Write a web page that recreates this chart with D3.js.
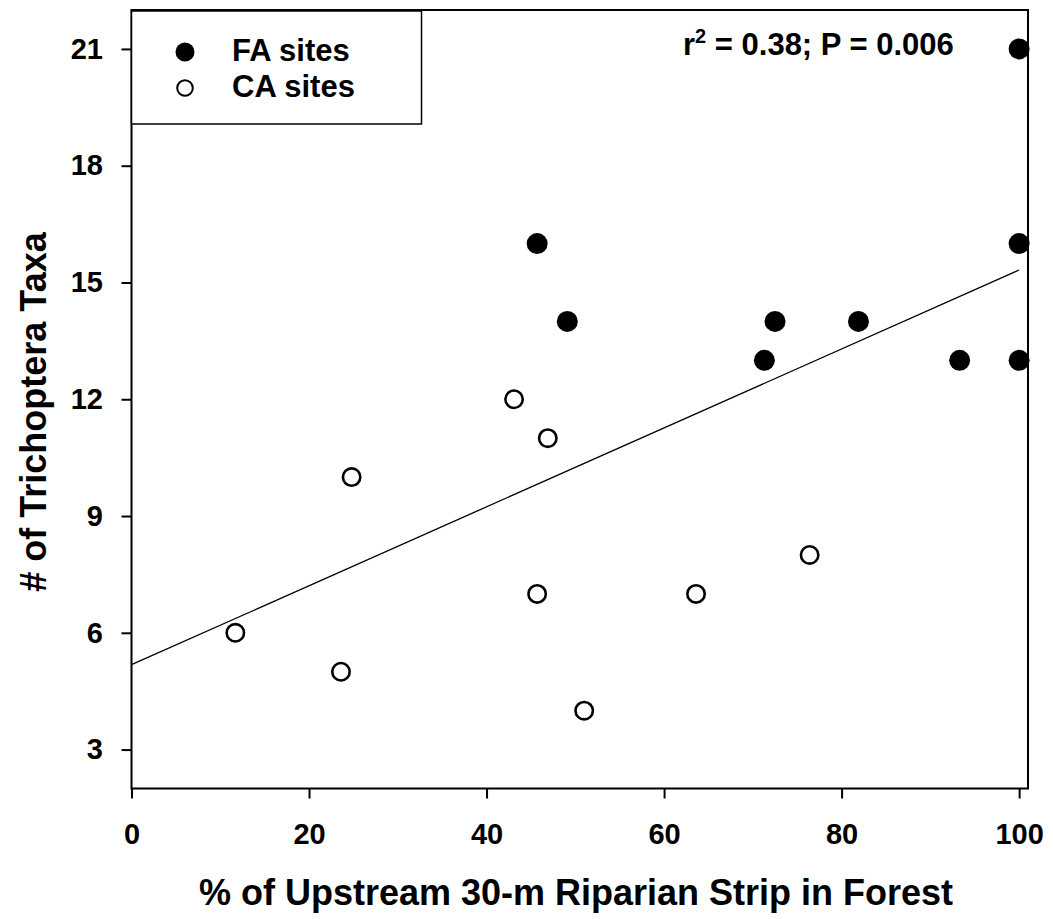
<!DOCTYPE html>
<html>
<head>
<meta charset="utf-8">
<script src="https://cdn.jsdelivr.net/npm/d3@7"></script>
<style>
  body { margin: 0; background: #fff; }
  svg text { font-family: Arial, "Liberation Sans", sans-serif; font-weight: bold; fill: #000; }
</style>
</head>
<body>
<svg id="chart" width="1053" height="919"></svg>
<script>
// FA sites (filled)
const faX = [45.7, 49.1, 71.3, 72.5, 81.9, 93.3, 100, 100, 100];
const faY = [16, 14, 13, 14, 14, 13, 21, 16, 13];
// CA sites (open)
const caX = [11.7, 23.6, 24.8, 43.1, 45.7, 46.9, 51.0, 63.6, 76.4];
const caY = [6, 5, 10, 12, 7, 11, 4, 7, 8];
// regression line as drawn
const fitX = [0, 100];
const fitY = [5.18, 15.32];

const xTicks = [0, 20, 40, 60, 80, 100];
const yTicks = [3, 6, 9, 12, 15, 18, 21];
const legendLabels = ["FA sites", "CA sites"];

const svg = d3.select("#chart");

const plotL = 131.5, plotR = 1028, plotT = 10, plotB = 788.5;

const x = d3.scaleLinear().domain([0, 101]).range([plotL, plotR]);
const y = d3.scaleLinear().domain([2, 22]).range([plotB, plotT]);

// axes
const xAxis = svg.append("g")
    .attr("transform", `translate(0,${plotB})`)
    .call(d3.axisBottom(x).tickValues(xTicks).tickSize(10).tickSizeOuter(0).tickPadding(24.5));
const yAxis = svg.append("g")
    .attr("transform", `translate(${plotL},0)`)
    .call(d3.axisLeft(y).tickValues(yTicks).tickSize(10).tickSizeOuter(0).tickPadding(18.5));

[xAxis, yAxis].forEach(g => {
    g.select(".domain").remove();
    g.selectAll(".tick line").attr("stroke", "#000").attr("stroke-width", 2);
    g.selectAll(".tick text").style("font-size", "29px").attr("fill", "#000");
});

// frame
svg.append("rect")
    .attr("x", plotL).attr("y", plotT)
    .attr("width", plotR - plotL).attr("height", plotB - plotT)
    .attr("fill", "none").attr("stroke", "#000").attr("stroke-width", 2);

// regression line
svg.append("line")
    .attr("x1", x(fitX[0])).attr("y1", y(fitY[0]))
    .attr("x2", x(fitX[1])).attr("y2", y(fitY[1]))
    .attr("stroke", "#000").attr("stroke-width", 1.3);

// points
svg.append("g").selectAll("circle")
    .data(caX.map((d, i) => [d, caY[i]]))
    .enter().append("circle")
    .attr("cx", d => x(d[0])).attr("cy", d => y(d[1]))
    .attr("r", 8.7)
    .attr("fill", "#fff").attr("stroke", "#000").attr("stroke-width", 2.6);

svg.append("g").selectAll("circle")
    .data(faX.map((d, i) => [d, faY[i]]))
    .enter().append("circle")
    .attr("cx", d => x(d[0])).attr("cy", d => y(d[1]))
    .attr("r", 10.5)
    .attr("fill", "#000");

// legend
svg.append("rect")
    .attr("x", plotL).attr("y", 11)
    .attr("width", 421.5 - plotL).attr("height", 124 - 11)
    .attr("fill", "#fff").attr("stroke", "#000").attr("stroke-width", 1.5);

svg.append("circle").attr("cx", 185).attr("cy", 52).attr("r", 9.5).attr("fill", "#000");
svg.append("circle").attr("cx", 185).attr("cy", 88).attr("r", 7.8)
    .attr("fill", "#fff").attr("stroke", "#000").attr("stroke-width", 2);

svg.selectAll(".leg")
    .data(legendLabels)
    .enter().append("text")
    .attr("class", "leg")
    .attr("x", 232)
    .attr("y", (d, i) => 61 + i * 36)
    .style("font-size", "31px")
    .text(d => d);

// stats
const stat = svg.append("text")
    .attr("x", 683).attr("y", 55)
    .style("font-size", "31px");
stat.append("tspan").text("r");
stat.append("tspan").attr("dy", -12).style("font-size", "20px").text("2");
stat.append("tspan").attr("dy", 12).text(" = 0.38; P = 0.006");

// axis titles
svg.append("text")
    .attr("x", 576).attr("y", 905)
    .attr("text-anchor", "middle")
    .style("font-size", "36px")
    .text("% of Upstream 30-m Riparian Strip in Forest");

svg.append("text")
    .attr("transform", "translate(46,412) rotate(-90)")
    .attr("text-anchor", "middle")
    .style("font-size", "36px")
    .text("# of Trichoptera Taxa");
</script>
</body>
</html>
